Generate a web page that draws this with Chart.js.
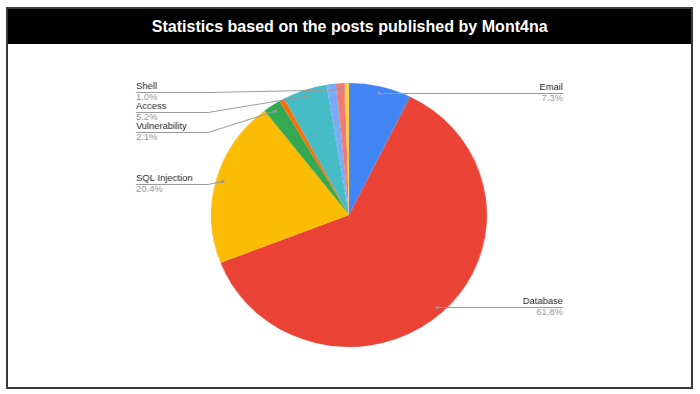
<!DOCTYPE html>
<html>
<head>
<meta charset="utf-8">
<script src="https://cdn.jsdelivr.net/npm/chart.js@4"></script>
<style>
    html, body { margin: 0; padding: 0; background: #fff; }
    #page { position: relative; width: 700px; height: 394px; overflow: hidden; }
    #frame {
        position: absolute; left: 6px; top: 7px; width: 687px; height: 382px;
        border: 2px solid #3a3a3a; box-sizing: border-box;
    }
    #header {
        position: absolute; left: 0; top: 0; right: 0; height: 35px; background: #000;
        color: #fff; font: bold 17px "Liberation Sans", Arial, sans-serif;
        text-align: center; line-height: 35px; white-space: nowrap;
    }
    #title { display: inline-block; transform-origin: 50% 50%; }
    /* the original picture is a little wider than tall, so stretch the chart the same way */
    #chartBox {
        position: absolute; left: 0; top: 0; width: 700px; height: 394px;
        transform: scaleX(1.045); transform-origin: 349px 215px;
    }
</style>
</head>
<body>
<div id="page">
    <div id="frame">
        <div id="header"><span id="title">Statistics based on the posts published by Mont4na</span></div>
    </div>
    <div id="chartBox"><canvas id="pieChart" width="700" height="394"></canvas></div>
</div>
<script>
    // data (percent of posts)
    const categories = ['Email', 'Database', 'SQL Injection', 'Vulnerability', 'Other 1', 'Access', 'Other 2', 'Shell', 'Other 3'];
    const postShare = [7.3, 61.8, 20.4, 2.1, 0.6, 5.2, 1.1, 1.0, 0.5];
    const sliceColors = ['#4285F4', '#EA4335', '#FBBC04', '#34A853', '#FF6D01', '#46BDC6', '#7BAAF7', '#F07B72', '#FCD04F'];
    const unlabelled = ['Other 1', 'Other 2', 'Other 3'];   // slices without a callout in the original

    // squeeze the title a bit, the original uses a narrow font
    const titleEl = document.getElementById('title');
    titleEl.style.transform = 'scaleX(' + (396 / titleEl.getBoundingClientRect().width) + ')';

    const labelFont = '9px "Liberation Sans", Arial, sans-serif';
    const stretch = 1.045;
    const cx = 349;
    // canvas x for a wanted on-screen x (undo the css stretch)
    const sx = x => cx + (x - cx) / stretch;

    // leader lines + labels like google sheets
    const calloutPlugin = {
        id: 'callouts',
        afterDatasetsDraw(chart) {
            const ctx = chart.ctx;
            const meta = chart.getDatasetMeta(0);
            const left = [], right = [];

            meta.data.forEach((arc, i) => {
                if (unlabelled.includes(categories[i])) return;
                const p = arc.getProps(['x', 'y', 'startAngle', 'endAngle', 'outerRadius'], true);
                const mid = (p.startAngle + p.endAngle) / 2;
                const r = p.outerRadius * 0.95;
                const item = {
                    name: categories[i],
                    pct: postShare[i].toFixed(1) + '%',
                    dx: p.x + Math.cos(mid) * r,
                    dy: p.y + Math.sin(mid) * r
                };
                (Math.cos(mid) >= 0 ? right : left).push(item);
            });

            ctx.save();
            ctx.font = labelFont;
            ctx.lineWidth = 1;
            ctx.strokeStyle = '#9a9a9a';

            const rightX = sx(563), leftX = sx(136), elbowX = sx(208);

            right.forEach(it => {
                const ly = Math.round(it.dy) + 0.5;
                ctx.beginPath();
                ctx.moveTo(it.dx, ly);
                ctx.lineTo(rightX, ly);
                ctx.stroke();
                ctx.textAlign = 'right';
                ctx.fillStyle = '#1a1a1a';
                ctx.textBaseline = 'bottom';
                ctx.fillText(it.name, rightX, ly - 1);
                ctx.fillStyle = '#8f8f8f';
                ctx.textBaseline = 'top';
                ctx.fillText(it.pct, rightX, ly + 1);
                dot(ctx, it.dx, it.dy);
            });

            // left side: stack downwards, keep 20px between lines
            left.sort((a, b) => a.dy - b.dy);
            let prev = -100;
            left.forEach(it => {
                let ly = Math.max(it.dy + 2, prev + 20);
                prev = ly;
                ly = Math.round(ly) + 0.5;
                ctx.beginPath();
                ctx.moveTo(leftX, ly);
                ctx.lineTo(elbowX, ly);
                ctx.lineTo(it.dx, it.dy);
                ctx.stroke();
                ctx.textAlign = 'left';
                ctx.fillStyle = '#1a1a1a';
                ctx.textBaseline = 'bottom';
                ctx.fillText(it.name, leftX, ly - 1);
                ctx.fillStyle = '#8f8f8f';
                ctx.textBaseline = 'top';
                ctx.fillText(it.pct, leftX, ly + 1);
                dot(ctx, it.dx, it.dy);
            });
            ctx.restore();

            function dot(c, x, y) {
                c.fillStyle = '#9a9a9a';
                c.beginPath();
                c.arc(x, y, 1.6, 0, Math.PI * 2);
                c.fill();
            }
        }
    };

    new Chart(document.getElementById('pieChart'), {
        type: 'pie',
        data: {
            labels: categories,
            datasets: [{
                data: postShare,
                backgroundColor: sliceColors,
                borderWidth: 0
            }]
        },
        options: {
            responsive: false,
            animation: false,
            devicePixelRatio: 1,
            layout: { padding: { top: 83, bottom: 47, left: 0, right: 2 } },
            plugins: {
                legend: { display: false },
                tooltip: { enabled: false }
            }
        },
        plugins: [calloutPlugin]
    });
</script>
</body>
</html>
